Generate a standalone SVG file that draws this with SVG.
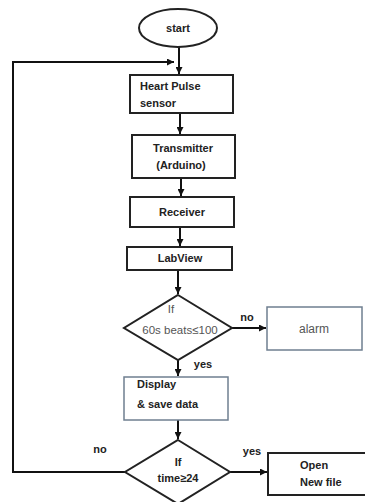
<svg xmlns="http://www.w3.org/2000/svg" width="365" height="502" viewBox="0 0 365 502">
<defs>
<marker id="ah" viewBox="0 0 10 10" refX="10" refY="5" markerWidth="7" markerHeight="7" markerUnits="userSpaceOnUse" orient="auto">
<path d="M0,0 L10,5 L0,10 z" fill="#111"/>
</marker>
<style>
.box{fill:#fff;stroke:#222;stroke-width:2}
.bbox{fill:#fff;stroke:#6f7f90;stroke-width:1.5}
.t{font-family:"Liberation Sans",Arial,sans-serif;font-size:11px;font-weight:bold;fill:#222}
.n{font-family:"Liberation Sans",Arial,sans-serif;font-size:11.5px;fill:#555}
.c{fill:none;stroke:#111;stroke-width:2}
</style>
</defs>
<rect width="365" height="502" fill="#fff"/>
<g id="connectors">
<line class="c" x1="179" y1="47" x2="179" y2="74" marker-end="url(#ah)"/>
<line class="c" x1="180" y1="113" x2="180" y2="134" marker-end="url(#ah)"/>
<line class="c" x1="181" y1="178" x2="181" y2="196" marker-end="url(#ah)"/>
<line class="c" x1="180" y1="227" x2="180" y2="246" marker-end="url(#ah)"/>
<line class="c" x1="178" y1="270" x2="178" y2="294" marker-end="url(#ah)"/>
<line class="c" x1="178" y1="360" x2="178" y2="376" marker-end="url(#ah)"/>
<line class="c" x1="178" y1="420" x2="178" y2="439" marker-end="url(#ah)"/>
<line class="c" x1="232" y1="328" x2="266" y2="328" marker-end="url(#ah)"/>
<line class="c" x1="230" y1="472" x2="267" y2="472" marker-end="url(#ah)"/>
<polyline class="c" points="125,472 13,472 13,62 174,62" marker-end="url(#ah)"/>
<text class="t" x="247" y="321" text-anchor="middle">no</text>
<text class="t" x="203" y="368" text-anchor="middle">yes</text>
<text class="t" x="100" y="453" text-anchor="middle">no</text>
<text class="t" x="252" y="455" text-anchor="middle">yes</text>
</g>
<g id="start">
<ellipse class="box" cx="178" cy="28" rx="39" ry="19"/>
<text class="t" x="178" y="32" text-anchor="middle">start</text>
</g>
<g id="sensor">
<rect class="box" x="130" y="75" width="103" height="38"/>
<text class="t" x="140" y="90">Heart Pulse</text>
<text class="t" x="140" y="107">sensor</text>
</g>
<g id="transmitter">
<rect class="box" x="132" y="135" width="103" height="43"/>
<text class="t" x="183" y="152" text-anchor="middle">Transmitter</text>
<text class="t" x="181" y="169" text-anchor="middle">(Arduino)</text>
</g>
<g id="receiver">
<rect class="box" x="130" y="197" width="104" height="30"/>
<text class="t" x="182" y="216" text-anchor="middle">Receiver</text>
</g>
<g id="labview">
<rect class="box" x="127" y="247" width="105" height="23"/>
<text class="t" x="180" y="262" text-anchor="middle">LabView</text>
</g>
<g id="check-beats">
<polygon class="box" points="178,295 232,328 178,360 124,328"/>
<text class="n" x="171" y="313" text-anchor="middle">If</text>
<text class="n" x="180" y="334" text-anchor="middle">60s beats≤100</text>
</g>
<g id="alarm">
<rect class="bbox" x="267" y="307" width="95" height="43"/>
<text class="n" x="314" y="333" text-anchor="middle" style="font-size:12px">alarm</text>
</g>
<g id="display">
<rect class="bbox" x="124" y="377" width="104" height="43"/>
<text class="t" x="137" y="388">Display</text>
<text class="t" x="137" y="408">&amp; save data</text>
</g>
<g id="check-time">
<polygon class="box" points="178,440 230,472 178,504 125,472"/>
<text class="t" x="178" y="466" text-anchor="middle">If</text>
<text class="t" x="178" y="482" text-anchor="middle">time≥24</text>
</g>
<g id="open-file">
<rect class="box" x="268" y="453" width="100" height="42"/>
<text class="t" x="300" y="469">Open</text>
<text class="t" x="300" y="486">New file</text>
</g>
</svg>
